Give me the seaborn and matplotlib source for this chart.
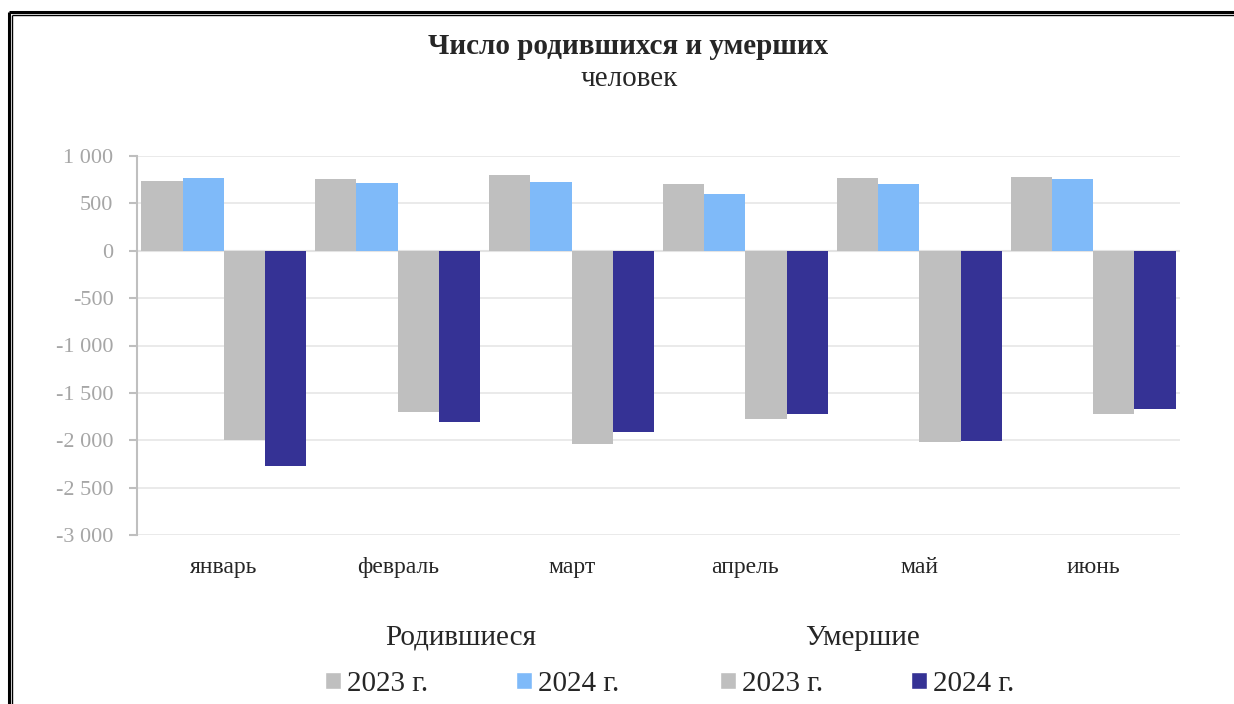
import numpy as np
import pandas as pd
import matplotlib
matplotlib.use('Agg')
import matplotlib.pyplot as plt
from matplotlib.patches import Patch
from matplotlib.lines import Line2D
import seaborn as sns

# Данные
месяцы = ['январь', 'февраль', 'март', 'апрель', 'май', 'июнь']
родившиеся_2023 = [740, 755, 797, 702, 769, 783]
родившиеся_2024 = [765, 712, 727, 603, 702, 755]
умершие_2023 = [-1995, -1704, -2042, -1771, -2014, -1728]
умершие_2024 = [-2270, -1810, -1908, -1728, -2003, -1675]

серии = ['Родившиеся 2023', 'Родившиеся 2024', 'Умершие 2023', 'Умершие 2024']
цвета = ['#bfbfbf', '#7fbaf9', '#bfbfbf', '#353295']

df = pd.DataFrame({
    'месяц': месяцы * 4,
    'серия': np.repeat(серии, len(месяцы)),
    'значение': родившиеся_2023 + родившиеся_2024 + умершие_2023 + умершие_2024,
})

sns.set_theme(style='white')
plt.rcParams['font.family'] = ['Liberation Serif', 'DejaVu Serif']

fig = plt.figure(figsize=(12.34, 7.04), dpi=100)
ax = fig.add_axes([137/1234, 1 - 535/704, (1180 - 137)/1234, (535 - 156)/704])

sns.barplot(data=df, x='месяц', y='значение', hue='серия', hue_order=серии,
            palette=цвета, saturation=1, width=0.95, ax=ax, legend=False,
            edgecolor='none', linewidth=0)

ax.set_ylim(-3000, 1000)
ax.set_xlim(-0.5, 5.5)
ax.set_yticks(np.arange(-3000, 1001, 500))
ax.set_yticklabels([f'{v:,.0f}'.replace(',', ' ') for v in np.arange(-3000, 1001, 500)])
ax.yaxis.grid(True, color='#e6e6e6', lw=1.2)
ax.set_axisbelow(True)
ax.axhline(0, color='#d9d9d9', lw=1.5, zorder=0.5)

for s in ['top', 'right', 'bottom']:
    ax.spines[s].set_visible(False)
ax.spines['left'].set_color('#bfbfbf')
ax.spines['left'].set_linewidth(1.5)

ax.tick_params(axis='y', left=True, length=6, width=1.5, color='#bfbfbf',
               labelsize=16, labelcolor='#a6a6a6', pad=11)
ax.tick_params(axis='x', bottom=False, labelsize=17, labelcolor='#262626', pad=10)
ax.set_xlabel('')
ax.set_ylabel('')

# Заголовок
fig.text(628/1234, 1 - 46/704, 'Число родившихся и умерших', ha='center', va='center',
         fontsize=21, fontweight='bold', color='#262626')
fig.text(629/1234, 1 - 79/704, 'человек', ha='center', va='center',
         fontsize=21, color='#262626')

# Легенда из двух групп
fig.text(461/1234, 1 - 638/704, 'Родившиеся', ha='center', va='center',
         fontsize=21, color='#262626')
fig.text(862/1234, 1 - 638/704, 'Умершие', ha='center', va='center',
         fontsize=21, color='#262626')

for i, xc in enumerate([472, 867]):
    ручки = [Patch(facecolor=цвета[2*i]), Patch(facecolor=цвета[2*i + 1])]
    fig.legend(ручки, ['2023 г.', '2024 г.'], ncol=2, loc='center',
               bbox_to_anchor=(xc/1234, 1 - 684/704), frameon=False,
               fontsize=21, handlelength=0.55, handleheight=0.55,
               handletextpad=0.2, columnspacing=3.0, labelcolor='#262626')

# Двойная рамка (видны только верх и левый край)
for (x0, y0), lw in [((9, 12), 2.2), ((12.3, 15.3), 1.0)]:
    fig.add_artist(Line2D([x0/1234, x0/1234], [0, 1 - y0/704], color='black', lw=lw,
                          transform=fig.transFigure, solid_capstyle='butt'))
    fig.add_artist(Line2D([x0/1234, 1], [1 - y0/704, 1 - y0/704], color='black', lw=lw,
                          transform=fig.transFigure, solid_capstyle='butt'))

plt.savefig('out.png', dpi=100)
plt.close()
